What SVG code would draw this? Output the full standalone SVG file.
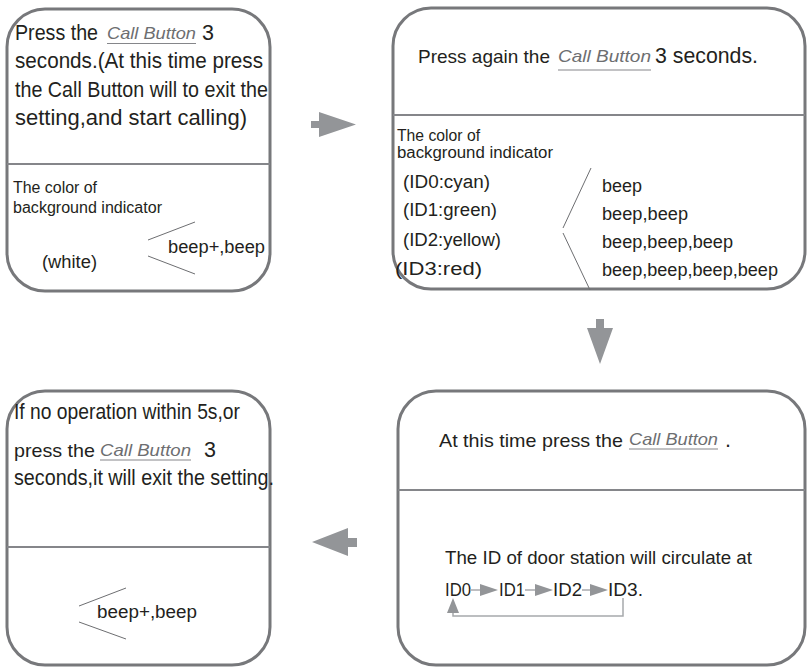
<svg xmlns="http://www.w3.org/2000/svg" width="807" height="667" viewBox="0 0 807 667">
<style>
text{font-family:"Liberation Sans",Arial,sans-serif;fill:#231f20}
.big{font-size:21.5px}
.big2{font-size:19px}
.mid{font-size:18px}
.sm{font-size:16px}
.cb{font-size:17px;font-style:italic;fill:#6d6e71}
.box{fill:#fff;stroke:#77787b;stroke-width:3}
.div{stroke:#85868a;stroke-width:1.8}
.ul{stroke:#85868a;stroke-width:1.2}
.thin{stroke:#6d6e71;stroke-width:1;fill:none}
.arr{fill:#939598}
.ln{stroke:#a7a9ac;stroke-width:1.5;fill:none}
</style>
<rect width="807" height="667" fill="#fff"/>

<g id="node1">
<rect class="box" x="7" y="9" width="263" height="282" rx="38"/>
<text class="big" x="15" y="40" textLength="83" lengthAdjust="spacingAndGlyphs">Press the</text>
<text class="cb" x="107" y="39" textLength="89" lengthAdjust="spacingAndGlyphs">Call Button</text>
<line class="ul" x1="107" y1="43.5" x2="196" y2="43.5"/>
<text class="big" x="202" y="40">3</text>
<text class="big" x="15" y="68" textLength="248" lengthAdjust="spacingAndGlyphs">seconds.(At this time press</text>
<text class="big" x="15" y="97" textLength="253" lengthAdjust="spacingAndGlyphs">the Call Button will to exit the</text>
<text class="big" x="15" y="125" textLength="232" lengthAdjust="spacingAndGlyphs">setting,and start calling)</text>
<line class="div" x1="7" y1="164" x2="270" y2="164"/>
<text class="sm" x="13" y="193" textLength="84" lengthAdjust="spacingAndGlyphs">The color of</text>
<text class="sm" x="13" y="213" textLength="149" lengthAdjust="spacingAndGlyphs">background indicator</text>
<line class="thin" x1="148" y1="240" x2="195" y2="222"/>
<line class="thin" x1="148" y1="256" x2="195" y2="274"/>
<text class="mid" x="168" y="253" textLength="97" lengthAdjust="spacingAndGlyphs">beep+,beep</text>
<text class="mid" x="42" y="268" textLength="55" lengthAdjust="spacingAndGlyphs">(white)</text>
</g>

<g id="node2">
<rect class="box" x="393" y="8" width="412" height="281" rx="38"/>
<text class="big2" x="418" y="63" textLength="132" lengthAdjust="spacingAndGlyphs">Press again the</text>
<text class="cb" x="558" y="62" textLength="93" lengthAdjust="spacingAndGlyphs">Call Button</text>
<line class="ul" x1="558" y1="70" x2="651" y2="70"/>
<text class="big" x="655" y="63" textLength="103" lengthAdjust="spacingAndGlyphs">3 seconds.</text>
<line class="div" x1="393" y1="115" x2="805" y2="115"/>
<text class="sm" x="397" y="141" textLength="83" lengthAdjust="spacingAndGlyphs">The color of</text>
<text class="sm" x="397" y="158" textLength="156" lengthAdjust="spacingAndGlyphs">background indicator</text>
<text class="mid" x="403" y="188" textLength="87" lengthAdjust="spacingAndGlyphs">(ID0:cyan)</text>
<text class="mid" x="403" y="216" textLength="94" lengthAdjust="spacingAndGlyphs">(ID1:green)</text>
<text class="mid" x="403" y="246" textLength="98" lengthAdjust="spacingAndGlyphs">(ID2:yellow)</text>
<text class="mid" x="395" y="275" textLength="87" lengthAdjust="spacingAndGlyphs">(ID3:red)</text>
<line class="thin" x1="591" y1="168" x2="563" y2="228"/>
<line class="thin" x1="563" y1="233" x2="590" y2="290"/>
<text class="mid" x="602" y="192" textLength="40" lengthAdjust="spacingAndGlyphs">beep</text>
<text class="mid" x="602" y="220" textLength="86" lengthAdjust="spacingAndGlyphs">beep,beep</text>
<text class="mid" x="602" y="248" textLength="131" lengthAdjust="spacingAndGlyphs">beep,beep,beep</text>
<text class="mid" x="602" y="276" textLength="176" lengthAdjust="spacingAndGlyphs">beep,beep,beep,beep</text>
</g>

<g id="node3">
<rect class="box" x="7" y="391" width="263" height="274" rx="38"/>
<text class="big" x="14" y="419" textLength="226" lengthAdjust="spacingAndGlyphs">If no operation within 5s,or</text>
<text class="big2" x="14" y="457" textLength="81" lengthAdjust="spacingAndGlyphs">press the</text>
<text class="cb" x="100" y="456" textLength="91" lengthAdjust="spacingAndGlyphs">Call Button</text>
<line class="ul" x1="100" y1="460" x2="191" y2="460"/>
<text class="big" x="204" y="457">3</text>
<text class="big" x="14" y="485" textLength="260" lengthAdjust="spacingAndGlyphs">seconds,it will exit the setting.</text>
<line class="div" x1="7" y1="547" x2="270" y2="547"/>
<line class="thin" x1="79" y1="606" x2="126" y2="588"/>
<line class="thin" x1="79" y1="622" x2="126" y2="639"/>
<text class="mid" x="97" y="618" textLength="100" lengthAdjust="spacingAndGlyphs">beep+,beep</text>
</g>

<g id="node4">
<rect class="box" x="398" y="391" width="407" height="274" rx="38"/>
<text class="big2" x="439" y="447" textLength="184" lengthAdjust="spacingAndGlyphs">At this time press the</text>
<text class="cb" x="629" y="445" textLength="89" lengthAdjust="spacingAndGlyphs">Call Button</text>
<line class="ul" x1="629" y1="449" x2="718" y2="449"/>
<text class="big" x="725" y="447">.</text>
<line class="div" x1="398" y1="490" x2="805" y2="490"/>
<text class="mid" x="445" y="564" textLength="307" lengthAdjust="spacingAndGlyphs">The ID of door station will circulate at</text>
<text class="mid" x="445" y="596" textLength="26" lengthAdjust="spacingAndGlyphs">ID0</text>
<text class="mid" x="499" y="596" textLength="26" lengthAdjust="spacingAndGlyphs">ID1</text>
<text class="mid" x="553" y="596" textLength="29" lengthAdjust="spacingAndGlyphs">ID2</text>
<text class="mid" x="608" y="596" textLength="35" lengthAdjust="spacingAndGlyphs">ID3.</text>
<line class="ln" x1="470" y1="590" x2="482" y2="590"/>
<polygon class="arr" points="480,584 498,590 480,596"/>
<line class="ln" x1="525" y1="590" x2="537" y2="590"/>
<polygon class="arr" points="535,584 553,590 535,596"/>
<line class="ln" x1="582" y1="590" x2="592" y2="590"/>
<polygon class="arr" points="590,584 608,590 590,596"/>
<polyline class="ln" points="623,598 623,616 453,616 453,610"/>
<polygon class="arr" points="447,613 453,598 459,613"/>
</g>

<g id="connectors">
<polygon class="arr" points="311,121 319,121 319,112 356,124.5 319,137 319,128 311,128"/>
<polygon class="arr" points="596,319 604,319 604,328 613,328 600,364 587,328 596,328"/>
<polygon class="arr" points="357,538 348,538 348,528 312,542 348,556 348,547 357,547"/>
</g>
</svg>
